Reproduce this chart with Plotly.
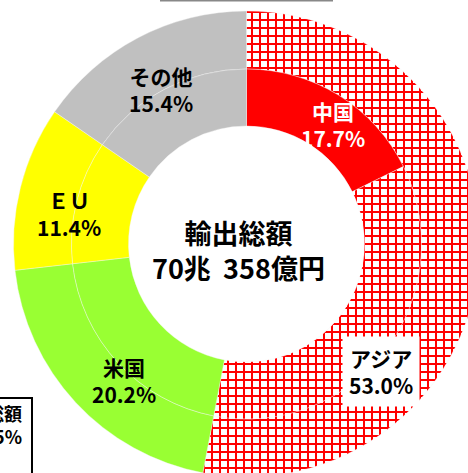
import plotly.graph_objects as go

# ---- data ----
outer_labels = ["アジア", "米国", "ＥＵ", "その他"]
outer_values = [53.0, 20.2, 11.4, 15.4]
inner_labels = ["中国", "アジア(中国以外)", "米国", "ＥＵ", "その他"]
inner_values = [17.7, 35.3, 20.2, 11.4, 15.4]
center_title = "輸出総額"
center_amount = "70兆  358億円"

outer_colors = ["#FFFFFF", "#99FF33", "#FFFF00", "#C0C0C0"]
outer_shapes = ["+", "", "", ""]
inner_colors = ["#FF0000", "#FFFFFF", "#99FF33", "#FFFF00", "#C0C0C0"]
inner_shapes = ["", "+", "", "", ""]

W, H = 500, 490
CX, CY = 246.5, 244.0      # centre in px (from top-left)
R_OUT, R_MID = 233.0, 175.0
R_HOLE = 118.0

def dom(r):
    return dict(x=[(CX - r) / W, (CX + r) / W],
                y=[(H - CY - r) / H, (H - CY + r) / H])

FONT = "Noto Sans CJK JP"

fig = go.Figure()
fig.add_trace(go.Pie(
    labels=outer_labels, values=outer_values, sort=False,
    direction="clockwise", rotation=0, hole=R_MID / R_OUT,
    domain=dom(R_OUT), textinfo="none", hoverinfo="skip",
    marker=dict(colors=outer_colors,
                line=dict(color="#F4F4F4", width=0.4),
                pattern=dict(shape=outer_shapes, fgcolor="#FF0000",
                             bgcolor="#FFFFFF", size=8, solidity=0.44)),
    showlegend=False,
))
fig.add_trace(go.Pie(
    labels=inner_labels, values=inner_values, sort=False,
    direction="clockwise", rotation=0, hole=R_HOLE / R_MID,
    domain=dom(R_MID), textinfo="none", hoverinfo="skip",
    marker=dict(colors=inner_colors,
                line=dict(color="#F4F4F4", width=0.4),
                pattern=dict(shape=inner_shapes, fgcolor="#FF0000",
                             bgcolor="#FFFFFF", size=8, solidity=0.44)),
    showlegend=False,
))

def px(x, y):
    return x / W, 1 - y / H

anns = []
def label(x, y, text, size=21, color="black", bg=None):
    ax, ay = px(x, y)
    d = dict(x=ax, y=ay, xref="paper", yref="paper", text=text,
             showarrow=False, xanchor="center", yanchor="middle",
             font=dict(family=FONT, size=size, color=color, weight="bold"),
             align="center")
    if bg:
        d.update(bgcolor=bg, borderpad=6)
    anns.append(d)

label(333, 125, f"{inner_labels[0]}<br>{inner_values[0]:.1f}%", color="white")
label(161, 90, f"{outer_labels[3]}<br>{outer_values[3]:.1f}%")
label(69, 213, f"{outer_labels[2]}<br>{outer_values[2]:.1f}%")
label(124, 380, f"{outer_labels[1]}<br>{outer_values[1]:.1f}%")
label(381, 371, f"{outer_labels[0]}<br>{outer_values[0]:.1f}%", bg="white")
label(238, 250, f"{center_title}<br>{center_amount}", size=27)

# partially visible box at bottom-left
bx, by = px(24, 424)
anns.append(dict(x=bx, y=by, xref="paper", yref="paper",
                 text="輸出総額<br>+12.5%", showarrow=False,
                 xanchor="right", yanchor="middle", align="right",
                 font=dict(family=FONT, size=18, color="black", weight="bold")))

shapes = [
    dict(type="rect", xref="paper", yref="paper",
         x0=-20 / W, x1=32 / W, y0=1 - 520 / H, y1=1 - 398 / H,
         line=dict(color="black", width=2), fillcolor="rgba(0,0,0,0)"),
    dict(type="line", xref="paper", yref="paper",
         x0=160 / W, x1=333 / W, y0=1 - 0.5 / H, y1=1 - 0.5 / H,
         line=dict(color="#888888", width=2)),
]

fig.update_layout(
    width=W, height=H, margin=dict(l=0, r=0, t=0, b=0),
    paper_bgcolor="white", plot_bgcolor="white",
    annotations=anns, shapes=shapes, showlegend=False,
    font=dict(family=FONT),
)

fig.write_html("out.html", config={"displayModeBar": False},
               post_script="document.body.style.margin='0';document.body.style.overflow='hidden';")
